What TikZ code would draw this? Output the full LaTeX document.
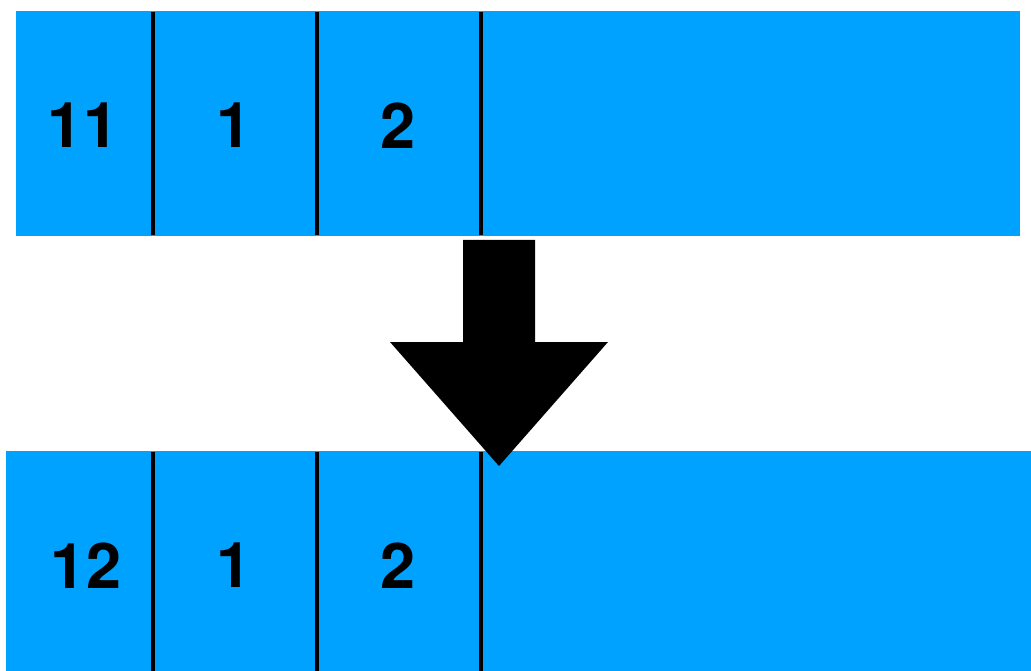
\documentclass[tikz,border=0pt]{standalone}
\usepackage{fontspec}
\setmainfont{TeX Gyre Heros}
\usetikzlibrary{positioning}
\definecolor{cellblue}{RGB}{0,162,255}

\begin{document}
\begin{tikzpicture}[x=1pt,y=-1pt,
  bar/.style={fill=cellblue, draw=none},
  divider/.style={line width=4.5pt, draw=black},
  num/.style={font=\fontsize{63}{63}\selectfont\bfseries, inner sep=0pt}
]
  \useasboundingbox (0,0) rectangle (1031,671);
  % before
  \fill[bar] (16,11) rectangle (1020,236);
  \foreach \x in {153,317,481}
    \draw[divider] (\x,12) -- (\x,235);
  \node[num] (oldA) at (83,125.5) {11};
  \node[num] (oldB) at (234,125.5) {1};
  \node[num] (oldC) at (398,125.5) {2};
  % after
  \fill[bar] (6,451) rectangle (1031,671);
  \foreach \x in {153,317,481}
    \draw[divider] (\x,452) -- (\x,671);
  \node[num] (newA) at (86,565.5) {12};
  \node[num] (newB) at (234,565.5) {1};
  \node[num] (newC) at (398,565.5) {2};
  % arrow
  \fill[black] (463,240) -- (535,240) -- (535,342) -- (608,342)
    -- (499,466) -- (390,342) -- (463,342) -- cycle;
\end{tikzpicture}
\end{document}
